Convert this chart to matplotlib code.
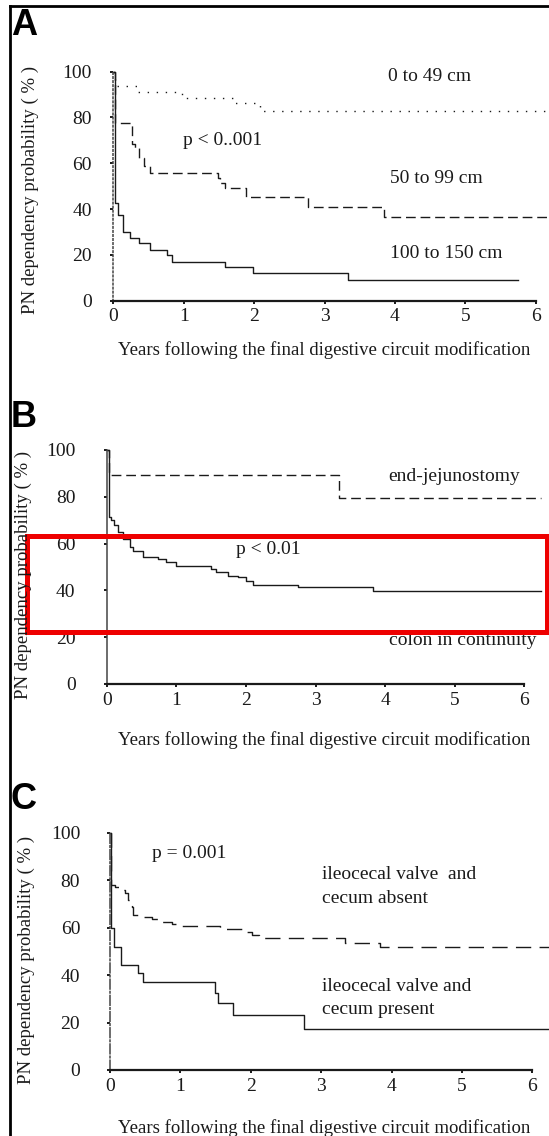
import matplotlib
matplotlib.use("Agg")
from matplotlib import pyplot as plt
from matplotlib.patches import Rectangle
from matplotlib.lines import Line2D

plt.rcParams["font.family"] = ["Liberation Serif", "DejaVu Serif"]

W, H = 549, 1136

# ---- data (years, % still on PN) ----
a_short_t = [0, 0.03, 0.35, 0.98, 1.73, 2.08, 6.2]
a_short_s = [100, 93.8, 91.3, 88.6, 86.2, 82.8, 82.8]
a_mid_t = [0, 0.02, 0.26, 0.31, 0.36, 0.43, 0.52, 1.49, 1.52, 1.59, 1.89, 2.77, 3.84, 6.2]
a_mid_s = [100, 77.5, 68.5, 66.5, 62.2, 58.8, 55.9, 53.4, 51.3, 49.1, 45.4, 40.8, 36.6, 36.6]
a_long_t = [0, 0.02, 0.07, 0.14, 0.24, 0.36, 0.52, 0.76, 0.83, 1.59, 1.99, 3.34, 5.75]
a_long_s = [100, 42.5, 37.4, 30.1, 27.2, 25.1, 22.1, 20.0, 17.0, 14.6, 12.2, 9.0, 9.0]

b_jej_t = [0, 0.03, 3.34, 6.24]
b_jej_s = [100, 89.3, 79.6, 79.6]
b_col_t = [0, 0.03, 0.063, 0.11, 0.16, 0.23, 0.33, 0.37, 0.52, 0.73, 0.85, 1.0,
           1.5, 1.57, 1.74, 1.88, 2.0, 2.1, 2.74, 3.83, 6.24]
b_col_s = [100, 71.3, 69.9, 67.8, 64.9, 62.0, 58.5, 57.0, 54.2, 53.4, 52.0, 50.6,
           49.3, 47.7, 46.3, 45.6, 44.1, 42.4, 41.6, 39.9, 39.9]

c_abs_t = [0, 0.02, 0.07, 0.14, 0.21, 0.26, 0.31, 0.33, 0.47, 0.59, 0.73, 0.88,
           1.02, 1.56, 1.87, 2.01, 2.11, 3.34, 3.84, 6.25]
c_abs_s = [100, 78.0, 77.3, 75.9, 74.5, 71.6, 68.8, 65.3, 64.3, 63.5, 62.5, 61.5,
           60.7, 59.3, 58.3, 56.9, 55.5, 53.7, 51.7, 51.7]
c_pres_t = [0, 0.02, 0.057, 0.15, 0.40, 0.47, 1.49, 1.54, 1.75, 2.76, 6.25]
c_pres_s = [100, 59.7, 52.0, 44.2, 40.7, 37.0, 32.3, 28.1, 23.2, 17.1, 17.1]

x_ticks = [0, 1, 2, 3, 4, 5, 6]
y_ticks = [0, 20, 40, 60, 80, 100]
xlabel = "Years following the final digestive circuit modification"
ylabel = "PN dependency probability ( % )"

XLIM = (-0.2, 6.3)
YLIM = (-5, 105)
INK = "#1a1a1a"

fig = plt.figure(figsize=(W / 100, H / 100), dpi=100)


def px(x, y):
    # pixel (from top-left) -> figure fraction
    return x / W, 1 - y / H


def make_axes(x0, ppy, y0, ppu, ypad, yspine_ls):
    left = x0 + XLIM[0] * ppy
    right = x0 + XLIM[1] * ppy
    top = y0 - YLIM[1] * ppu
    bottom = y0 - YLIM[0] * ppu
    ax = fig.add_axes([left / W, 1 - bottom / H, (right - left) / W, (bottom - top) / H])
    ax.set_xlim(XLIM)
    ax.set_ylim(YLIM)
    ax.patch.set_alpha(0)
    for s in ["top", "right"]:
        ax.spines[s].set_visible(False)
    ax.spines["left"].set_position(("data", 0))
    ax.spines["bottom"].set_position(("data", 0))
    ax.spines["left"].set_bounds(0, 100)
    ax.spines["bottom"].set_bounds(0, 6)
    ax.spines["bottom"].set_linewidth(1.6)
    ax.spines["bottom"].set_color(INK)
    ax.spines["left"].set_linewidth(1.1)
    ax.spines["left"].set_color("#444444")
    ax.spines["left"].set_linestyle(yspine_ls)
    ax.set_xticks(x_ticks)
    ax.set_yticks(y_ticks)
    ax.tick_params(axis="x", length=2.5, width=1.4, pad=3, labelsize=14, colors=INK)
    ax.tick_params(axis="y", length=2.5, width=1.4, pad=ypad, labelsize=14, colors=INK)
    return ax


def steps(ax, t, s, ls):
    ax.plot(t, s, drawstyle="steps-post", color=INK, lw=1.0, linestyle=ls,
            clip_on=False)


def labels(ax, xl_y, yl_x, yl_y):
    fig.text(*px(324, xl_y), xlabel, ha="center", va="center", fontsize=13.5, color=INK)
    fig.text(*px(yl_x, yl_y), ylabel, ha="center", va="center", rotation=90,
             fontsize=13.5, color=INK)


# ---- panel A ----
axA = make_axes(113.3, 70.4, 300.7, 2.29, 13, ":")
steps(axA, a_short_t, a_short_s, (0, (1, 5.5)))
steps(axA, a_mid_t, a_mid_s, (0, (7, 3.5)))
steps(axA, a_long_t, a_long_s, "-")
axA.text(3.9, 97.7, "0 to 49 cm", fontsize=14, va="center", color=INK)
axA.text(3.93, 53.5, "50 to 99 cm", fontsize=14, va="center", color=INK)
axA.text(3.93, 20.6, "100 to 150 cm", fontsize=14, va="center", color=INK)
axA.text(0.99, 70.1, "p < 0..001", fontsize=14, va="center", color=INK)
labels(axA, 350, 30, 190)

# ---- panel B ----
axB = make_axes(106.8, 69.6, 684, 2.34, 20, "-")
steps(axB, b_jej_t, b_jej_s, (0, (7, 3.5)))
steps(axB, b_col_t, b_col_s, "-")
axB.text(4.05, 88.5, "end-jejunostomy", fontsize=14, va="center", color=INK)
axB.text(1.85, 57.3, "p < 0.01", fontsize=14, va="center", color=INK)
axB.text(4.06, 18.8, "colon in continuity", fontsize=14, va="center", color=INK)
labels(axB, 740, 23, 575)

# ---- panel C ----
axC = make_axes(110, 70.4, 1070, 2.373, 19, "-.")
steps(axC, c_abs_t, c_abs_s, (0, (11, 6)))
steps(axC, c_pres_t, c_pres_s, "-")
axC.text(0.6, 91.2, "p = 0.001", fontsize=14, va="center", color=INK)
axC.text(3.01, 82.5, "ileocecal valve  and", fontsize=14, va="center", color=INK)
axC.text(3.01, 72.4, "cecum absent", fontsize=14, va="center", color=INK)
axC.text(3.01, 35.1, "ileocecal valve and", fontsize=14, va="center", color=INK)
axC.text(3.01, 25.3, "cecum present", fontsize=14, va="center", color=INK)
labels(axC, 1128, 26, 960)

# panel letters
for letter, ytop in [("A", 8), ("B", 400), ("C", 782)]:
    fig.text(*px(11, ytop), letter, ha="left", va="top", fontsize=26,
             fontweight="bold", family="Liberation Sans", color="black")

# outer frame (top and left edges)
fig.add_artist(Line2D([9.5 / W, 1], [1 - 5.7 / H, 1 - 5.7 / H], color="black", lw=2,
                      transform=fig.transFigure))
fig.add_artist(Line2D([9.5 / W, 9.5 / W], [0, 1 - 5.7 / H], color="black", lw=2,
                      transform=fig.transFigure))

# red highlight box in panel B
fig.add_artist(Rectangle(px(27, 631.5), (547 - 27) / W, (631.5 - 535.5) / H,
                         transform=fig.transFigure, fill=False, edgecolor="#ee0000",
                         lw=3.6))

fig.savefig("out.png", dpi=100)
